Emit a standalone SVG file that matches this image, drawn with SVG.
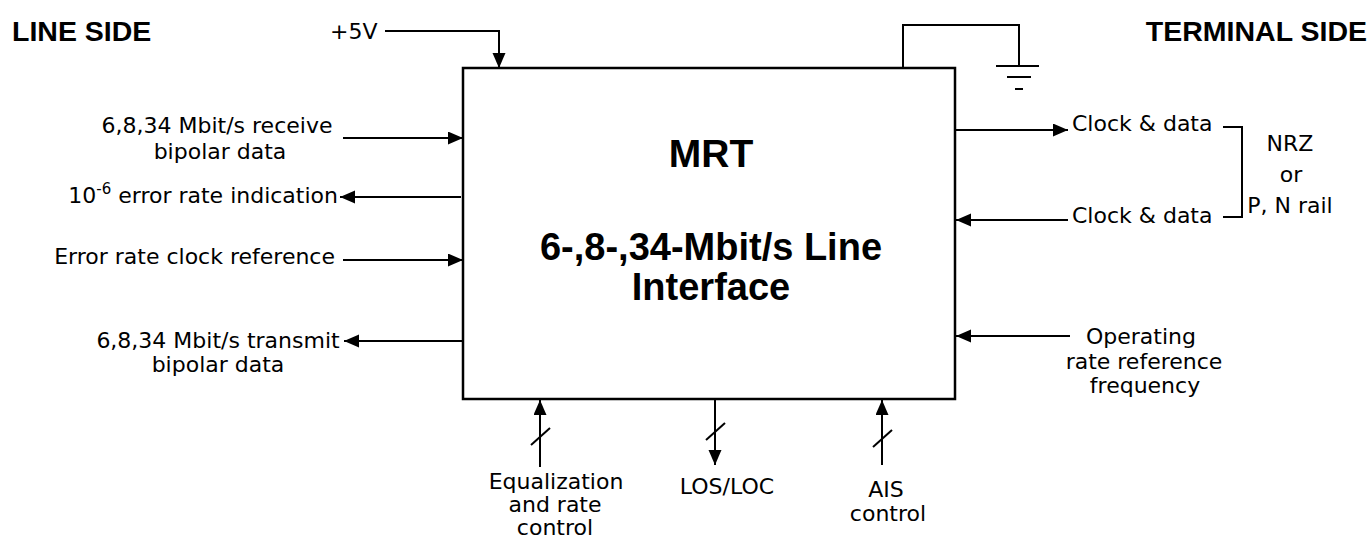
<svg xmlns="http://www.w3.org/2000/svg" width="1372" height="540" viewBox="0 0 1372 540">
<style>
.t{font-family:"DejaVu Sans",sans-serif;font-size:22px;fill:#000}
.m{text-anchor:middle}
.e{text-anchor:end}
.h{font-family:"Liberation Sans",Arial,sans-serif;font-weight:bold;fill:#000}
.w{fill:none;stroke:#000;stroke-width:2}
.a{marker-end:url(#ah)}
</style>
<defs>
<marker id="ah" markerUnits="userSpaceOnUse" markerWidth="16" markerHeight="14" refX="15" refY="6.5" orient="auto">
<path d="M0,0 L15,6.5 L0,13 z" fill="#000"/>
</marker>
</defs>
<rect width="1372" height="540" fill="#fff"/>
<g id="line-side"><text class="h" x="12" y="41" font-size="28.5">LINE SIDE</text></g>
<g id="terminal-side"><text class="h e" x="1367" y="41" font-size="28.5">TERMINAL SIDE</text></g>
<g id="mrt">
<rect x="463" y="68" width="492" height="331" fill="#fff" stroke="#000" stroke-width="2.5"/>
<text class="h m" x="711" y="167" font-size="39">MRT</text>
<text class="h m" x="711" y="260" font-size="38">6-,8-,34-Mbit/s Line</text>
<text class="h m" x="711" y="300" font-size="38">Interface</text>
</g>
<g id="plus5v"><text class="t" x="330" y="39">+5V</text></g>
<g id="ground">
<path class="w" d="M996,66 H1039 M1007,77 H1031 M1015,89 H1023"/>
</g>
<g id="rx-in"><text class="t m" x="217" y="133">6,8,34 Mbit/s receive</text><text class="t m" x="220" y="159">bipolar data</text></g>
<g id="err-ind"><text class="t e" x="338" y="203">10<tspan font-size="15" dy="-9">-6</tspan><tspan dy="9"> error rate indication</tspan></text></g>
<g id="err-clk"><text class="t e" x="335" y="264">Error rate clock reference</text></g>
<g id="tx-out"><text class="t m" x="218" y="348">6,8,34 Mbit/s transmit</text><text class="t m" x="218" y="372">bipolar data</text></g>
<g id="clk-out"><text class="t" x="1072" y="131">Clock &amp; data</text></g>
<g id="clk-in"><text class="t" x="1072" y="223">Clock &amp; data</text></g>
<g id="nrz"><text class="t m" x="1290" y="151">NRZ</text><text class="t m" x="1291" y="182">or</text><text class="t m" x="1290" y="213">P, N rail</text></g>
<g id="op-rate"><text class="t m" x="1141" y="344">Operating</text><text class="t m" x="1144" y="369">rate reference</text><text class="t m" x="1145" y="393">frequency</text></g>
<g id="eq-ctrl" font-size="19.5"><text class="t m" x="556" y="489" font-size="19.5">Equalization</text><text class="t m" x="555" y="512" font-size="19.5">and rate</text><text class="t m" x="555" y="535" font-size="19.5">control</text></g>
<g id="los"><text class="t m" x="727" y="494">LOS/LOC</text></g>
<g id="ais"><text class="t m" x="886" y="497">AIS</text><text class="t m" x="888" y="521">control</text></g>
<g id="connectors">
<path class="w a" d="M385,31 H499 V68"/>
<path class="w" d="M903,68 V25 H1019 V66"/>
<path class="w a" d="M343,138 H463"/>
<path class="w a" d="M461,197 H340"/>
<path class="w a" d="M343,260 H463"/>
<path class="w a" d="M463,341 H344"/>
<path class="w a" d="M955,130 H1068"/>
<path class="w a" d="M1068,220 H956"/>
<path class="w" d="M1223,127 H1242 V217 H1223"/>
<path class="w a" d="M1070,336 H956"/>
<path class="w a" d="M540,467 V400"/>
<path class="w" d="M531,445 L550,428"/>
<path class="w a" d="M715,399 V465"/>
<path class="w" d="M706,440 L725,423"/>
<path class="w a" d="M882,465 V400"/>
<path class="w" d="M873,447 L892,430"/>
</g>
</svg>
